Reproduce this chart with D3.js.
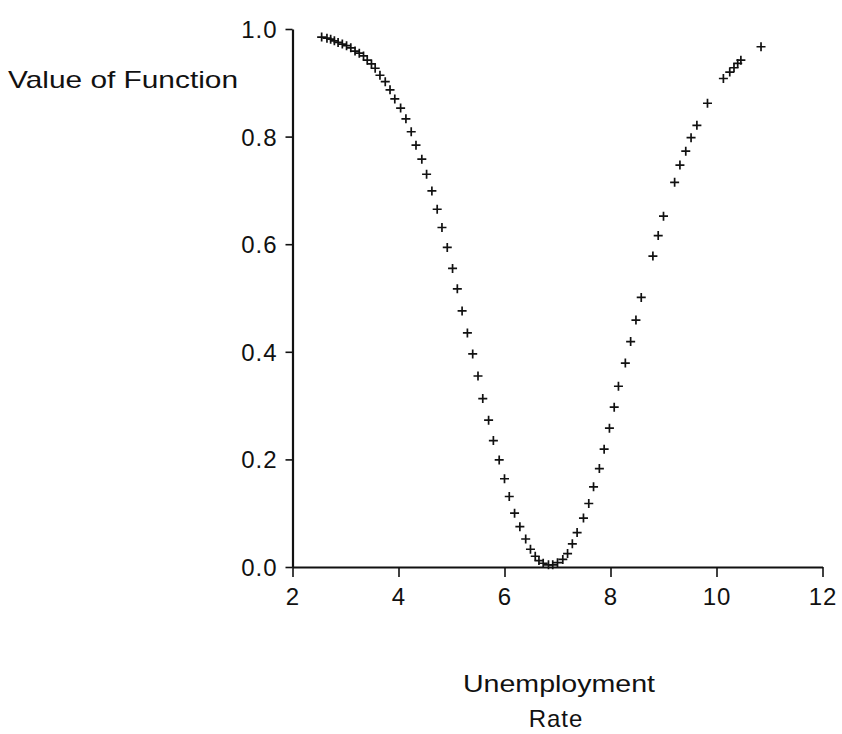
<!DOCTYPE html>
<html><head><meta charset="utf-8">
<script src="https://cdn.jsdelivr.net/npm/d3@7"></script>
<style>body{margin:0;background:#fff}svg text{font-family:"Liberation Sans",Arial,sans-serif;fill:#111}</style>
</head><body><svg id="c" width="842" height="734"></svg>
<script>
const unemp = [2.55,2.65,2.72,2.79,2.86,2.94,3.02,3.10,3.18,3.26,3.34,3.41,3.49,3.56,3.65,3.75,3.84,3.93,4.04,4.14,4.24,4.33,4.44,4.53,4.63,4.73,4.82,4.92,5.02,5.11,5.20,5.30,5.40,5.50,5.59,5.70,5.79,5.90,6.00,6.09,6.19,6.29,6.40,6.49,6.58,6.65,6.73,6.83,6.91,7.00,7.10,7.19,7.28,7.37,7.49,7.59,7.68,7.79,7.88,7.98,8.07,8.15,8.28,8.38,8.48,8.58,8.80,8.90,9.00,9.21,9.31,9.42,9.52,9.63,9.83,10.13,10.25,10.33,10.40,10.46,10.84];
const fval = [0.985,0.983,0.981,0.978,0.975,0.972,0.969,0.965,0.959,0.955,0.950,0.942,0.935,0.927,0.914,0.902,0.887,0.870,0.853,0.833,0.809,0.784,0.758,0.730,0.699,0.665,0.631,0.594,0.555,0.517,0.476,0.435,0.396,0.355,0.313,0.273,0.235,0.199,0.164,0.131,0.100,0.075,0.052,0.033,0.020,0.012,0.007,0.004,0.004,0.008,0.014,0.025,0.043,0.064,0.091,0.118,0.149,0.183,0.219,0.258,0.297,0.336,0.379,0.419,0.459,0.501,0.578,0.616,0.652,0.715,0.747,0.773,0.798,0.821,0.862,0.908,0.920,0.928,0.936,0.942,0.967];
const xTicks = [2,4,6,8,10,12];
const yTicks = [0.0,0.2,0.4,0.6,0.8,1.0];
const yTitle = "Value of Function";
const xTitle = ["Unemployment","Rate"];

const svg = d3.select("#c");
const x = d3.scaleLinear().domain([2,12]).range([292.5,822.5]);
const y = d3.scaleLinear().domain([0,1]).range([567,29]);

const xa = svg.append("g").attr("transform","translate(0,567)")
  .call(d3.axisBottom(x).tickValues(xTicks).tickFormat(d3.format("d")).tickSize(10).tickPadding(6).tickSizeOuter(0));
const ya = svg.append("g").attr("transform","translate(292.5,0)")
  .call(d3.axisLeft(y).tickValues(yTicks).tickFormat(d3.format(".1f")).tickSize(7).tickPadding(8).tickSizeOuter(0));
[xa,ya].forEach(a=>{
  a.select(".domain").attr("stroke","#111").attr("stroke-width",2.2);
  a.selectAll(".tick line").attr("stroke","#111").attr("stroke-width",1.6);
  a.selectAll(".tick text").attr("font-size",24).attr("fill","#111").attr("letter-spacing",1).style("font-family","'Liberation Sans',Arial,sans-serif");
});
xa.selectAll(".tick text").attr("dy","0.9em");
ya.selectAll(".tick text").attr("dy","0.35em");

const pts = unemp.map((u,i)=>[u,fval[i]]);
const s = 4.5;
svg.append("g").selectAll("path").data(pts).join("path")
  .attr("d",d=>{const cx=x(d[0]),cy=y(d[1]);return `M${cx-s},${cy}H${cx+s}M${cx},${cy-s}V${cy+s}`;})
  .attr("stroke","#111").attr("stroke-width",1.7).attr("fill","none");

svg.append("text").attr("x",8).attr("y",88).attr("font-size",24)
  .attr("textLength",230).attr("lengthAdjust","spacingAndGlyphs").text(yTitle);
svg.append("text").attr("x",463).attr("y",692).attr("font-size",24)
  .attr("textLength",192).attr("lengthAdjust","spacingAndGlyphs").text(xTitle[0]);
svg.append("text").attr("x",556).attr("y",727).attr("text-anchor","middle").attr("font-size",24).attr("letter-spacing",1).text(xTitle[1]);
</script></body></html>
